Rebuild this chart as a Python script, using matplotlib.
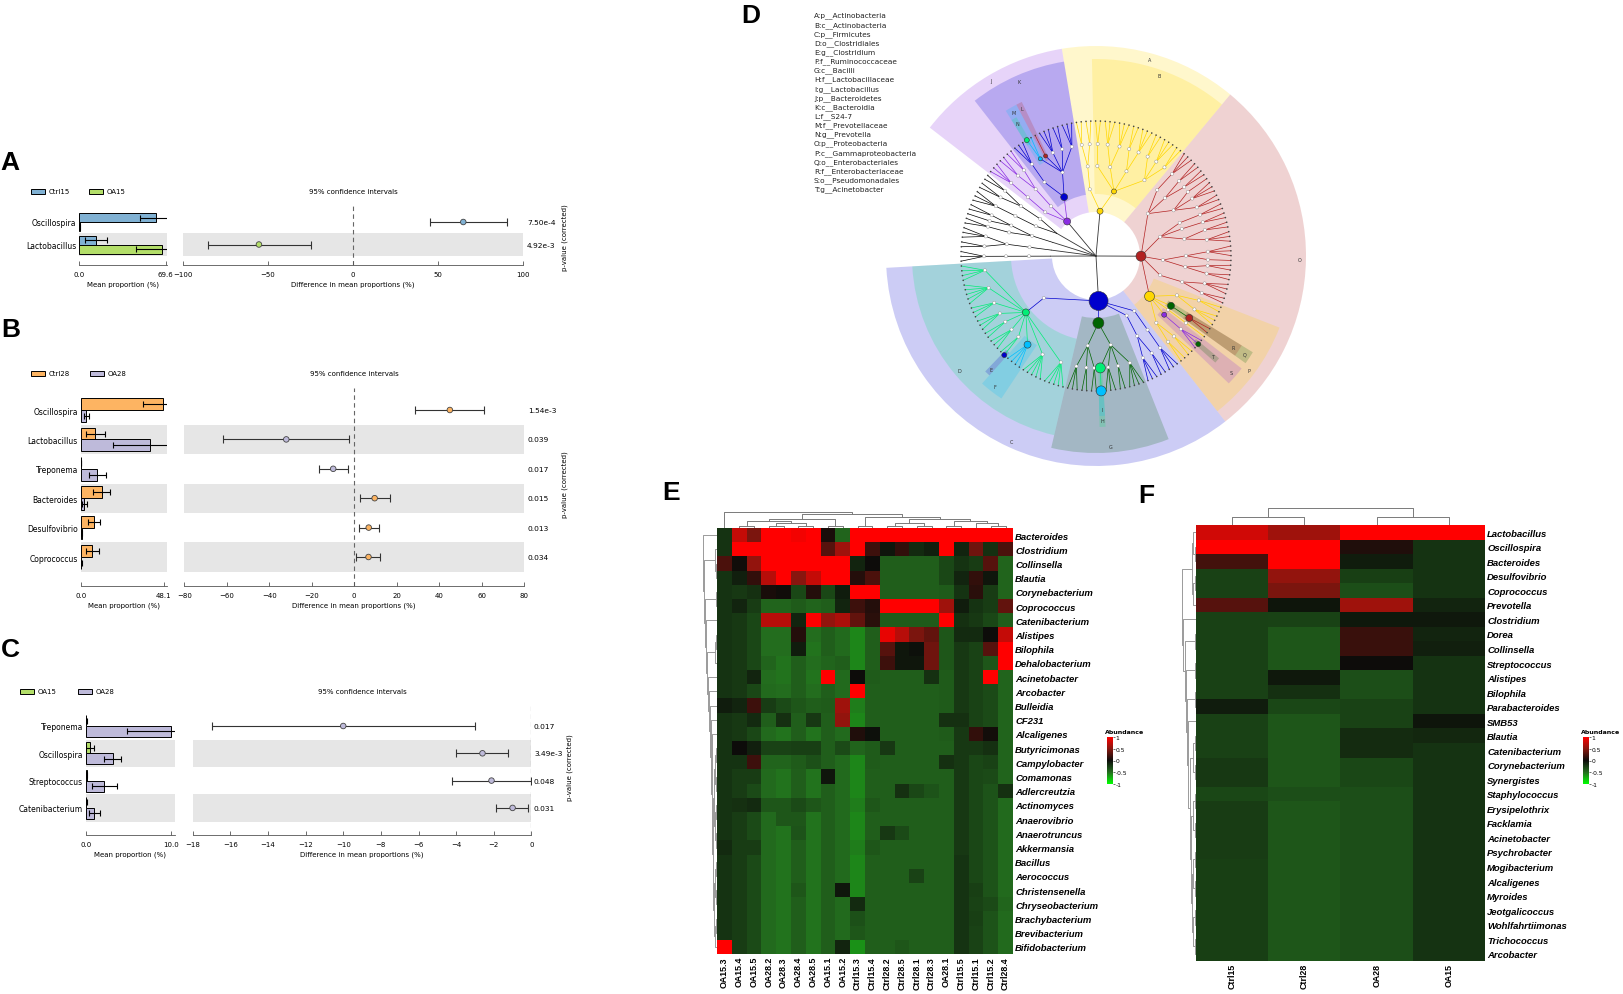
import numpy as np
import matplotlib
matplotlib.use('Agg')
import matplotlib.pyplot as plt
from matplotlib.patches import Wedge, Circle, Rectangle
from matplotlib.colors import LinearSegmentedColormap

W, H = 1623, 995

# ---------------- STAMP panels (A, B, C) ----------------
set3_blue, set3_green, set3_orange, set3_purple = '#80b1d3', '#b3de69', '#fdb462', '#bebada'

a_genera = ['Oscillospira', 'Lactobacillus']
a_groups = ['Ctrl15', 'OA15']
a_mean1 = [62.0, 13.7]
a_sd1 = [13.0, 8.8]
a_mean2 = [0.3, 66.4]
a_sd2 = [0.2, 21.0]
a_diff = [64.7, -55.3]
a_lo = [45.0, -85.3]
a_hi = [90.4, -25.0]
a_p = ['7.50e-4', '4.92e-3']

b_genera = ['Oscillospira', 'Lactobacillus', 'Treponema', 'Bacteroides', 'Desulfovibrio', 'Coprococcus']
b_groups = ['Ctrl28', 'OA28']
b_mean1 = [47.7, 8.4, 0.1, 12.2, 7.8, 6.8]
b_sd1 = [11.8, 5.6, 0.1, 5.0, 3.5, 3.9]
b_mean2 = [3.2, 40.1, 9.7, 2.1, 0.5, 0.3]
b_sd2 = [1.5, 21.5, 5.0, 1.5, 0.4, 0.2]
b_diff = [45.0, -32.0, -9.9, 9.6, 6.8, 6.7]
b_lo = [28.6, -61.6, -16.8, 2.9, 2.2, 0.9]
b_hi = [61.3, -2.4, -2.9, 16.8, 11.5, 12.3]
b_p = ['1.54e-3', '0.039', '0.017', '0.015', '0.013', '0.034']

c_genera = ['Treponema', 'Oscillospira', 'Streptococcus', 'Catenibacterium']
c_groups = ['OA15', 'OA28']
c_mean1 = [0.05, 0.5, 0.1, 0.05]
c_sd1 = [0.05, 0.5, 0.1, 0.05]
c_mean2 = [10.0, 3.2, 2.2, 1.0]
c_sd2 = [5.1, 1.0, 1.5, 0.65]
c_diff = [-10.0, -2.6, -2.12, -1.0]
c_lo = [-17.0, -4.0, -4.23, -1.87]
c_hi = [-3.0, -1.24, -0.04, -0.17]
c_p = ['0.017', '3.49e-3', '0.048', '0.031']

# ---------------- heatmap E ----------------
e_cols = ['OA15.3', 'OA15.4', 'OA15.5', 'OA28.2', 'OA28.3', 'OA28.4', 'OA28.5', 'OA15.1', 'OA15.2',
          'Ctrl15.3', 'Ctrl15.4', 'Ctrl28.2', 'Ctrl28.5', 'Ctrl28.1', 'Ctrl28.3', 'OA28.1',
          'Ctrl15.5', 'Ctrl15.1', 'Ctrl15.2', 'Ctrl28.4']
e_rows = ['Bacteroides', 'Clostridium', 'Collinsella', 'Blautia', 'Corynebacterium', 'Coprococcus',
          'Catenibacterium', 'Alistipes', 'Bilophila', 'Dehalobacterium', 'Acinetobacter', 'Arcobacter',
          'Bulleidia', 'CF231', 'Alcaligenes', 'Butyricimonas', 'Campylobacter', 'Comamonas',
          'Adlercreutzia', 'Actinomyces', 'Anaerovibrio', 'Anaerotruncus', 'Akkermansia', 'Bacillus',
          'Aerococcus', 'Christensenella', 'Chryseobacterium', 'Brachybacterium', 'Brevibacterium',
          'Bifidobacterium']
e_values = [
    [-0.2, 0.75, 0.45, 1, 1, 0.95, 1, 0.05, -0.45, 1, 1, 1, 1, 1, 1, 1, 1, 1, 1, 1],
    [-0.2, 1, 1, 1, 1, 1, 1, 0.3, 0.6, 1, 0.2, -0.05, 0.15, -0.15, -0.1, 1, -0.12, 0.4, -0.18, 0.25],
    [0.25, 0.02, 0.55, 1, 1, 1, 1, 1, 1, -0.12, 0.0, -0.42, -0.42, -0.42, -0.42, -0.3, -0.2, -0.25, 0.3, -0.45],
    [-0.2, -0.1, 0.15, 0.7, 1, 0.5, 0.75, 1, 1, 0.1, 0.25, -0.42, -0.42, -0.42, -0.42, -0.3, -0.12, 0.15, -0.05, -0.45],
    [-0.2, -0.22, -0.18, 0.05, 0.02, -0.3, 0.1, -0.3, -0.08, 1, 1, -0.42, -0.42, -0.42, -0.42, -0.4, -0.2, 0.12, -0.25, -0.45],
    [-0.2, -0.12, -0.25, -0.45, -0.45, -0.4, -0.45, -0.42, -0.12, 0.2, 0.1, 1, 1, 1, 1, 0.6, -0.08, -0.2, -0.25, 0.35],
    [-0.2, -0.22, -0.3, 0.7, 0.7, -0.12, 1, 0.55, 0.65, 0.35, 0.12, -0.4, -0.4, -0.4, -0.4, 1, -0.18, -0.22, -0.3, -0.42],
    [-0.2, -0.22, -0.3, -0.5, -0.5, 0.1, -0.5, -0.42, -0.48, -0.58, -0.42, 0.9, 0.7, 0.45, 0.35, -0.38, -0.15, -0.15, 0.0, 0.75],
    [-0.2, -0.22, -0.3, -0.5, -0.5, -0.08, -0.52, -0.42, -0.48, -0.58, -0.42, 0.3, -0.05, -0.02, 0.4, -0.38, -0.22, -0.28, 0.3, 1],
    [-0.2, -0.22, -0.3, -0.45, -0.52, -0.42, -0.5, -0.45, -0.42, -0.58, -0.42, 0.2, -0.05, -0.05, 0.4, -0.38, -0.22, -0.28, -0.38, 1],
    [-0.2, -0.22, -0.12, -0.5, -0.52, -0.42, -0.52, 1, -0.48, 0.0, -0.4, -0.42, -0.42, -0.42, -0.18, -0.4, -0.22, -0.28, 1, -0.45],
    [-0.2, -0.22, -0.3, -0.48, -0.5, -0.42, -0.5, -0.42, -0.48, 1, -0.42, -0.42, -0.42, -0.42, -0.42, -0.4, -0.22, -0.28, -0.32, -0.45],
    [-0.08, -0.12, 0.2, -0.25, -0.32, -0.38, -0.42, -0.4, 0.6, -0.55, -0.42, -0.42, -0.42, -0.42, -0.42, -0.4, -0.22, -0.28, -0.32, -0.45],
    [-0.2, -0.22, -0.15, -0.42, -0.18, -0.42, -0.22, -0.42, 0.55, -0.58, -0.42, -0.42, -0.42, -0.42, -0.42, -0.18, -0.18, -0.28, -0.32, -0.45],
    [-0.2, -0.22, -0.3, -0.48, -0.52, -0.42, -0.52, -0.42, -0.48, 0.08, -0.02, -0.42, -0.42, -0.42, -0.42, -0.4, -0.22, 0.15, 0.03, -0.45],
    [-0.2, 0.0, -0.1, -0.28, -0.28, -0.26, -0.26, -0.42, -0.32, -0.45, -0.4, -0.22, -0.42, -0.42, -0.42, -0.42, -0.22, -0.22, -0.18, -0.45],
    [-0.2, -0.2, 0.2, -0.45, -0.45, -0.4, -0.35, -0.42, -0.48, -0.58, -0.4, -0.42, -0.42, -0.42, -0.42, -0.18, -0.22, -0.3, -0.28, -0.45],
    [-0.2, -0.25, -0.25, -0.48, -0.52, -0.42, -0.52, -0.05, -0.48, -0.58, -0.42, -0.42, -0.42, -0.42, -0.42, -0.42, -0.22, -0.3, -0.32, -0.45],
    [-0.2, -0.25, -0.32, -0.48, -0.52, -0.42, -0.52, -0.42, -0.48, -0.58, -0.42, -0.42, -0.18, -0.3, -0.36, -0.42, -0.22, -0.3, -0.36, -0.18],
    [-0.2, -0.18, -0.15, -0.38, -0.38, -0.32, -0.38, -0.42, -0.48, -0.55, -0.38, -0.42, -0.42, -0.42, -0.42, -0.42, -0.22, -0.3, -0.36, -0.48],
    [-0.2, -0.25, -0.32, -0.48, -0.38, -0.38, -0.52, -0.42, -0.48, -0.58, -0.42, -0.42, -0.42, -0.42, -0.42, -0.42, -0.22, -0.3, -0.36, -0.48],
    [-0.2, -0.25, -0.32, -0.48, -0.52, -0.36, -0.52, -0.42, -0.48, -0.58, -0.42, -0.22, -0.32, -0.42, -0.42, -0.42, -0.22, -0.3, -0.36, -0.48],
    [-0.15, -0.25, -0.25, -0.48, -0.52, -0.42, -0.52, -0.42, -0.48, -0.55, -0.38, -0.42, -0.42, -0.42, -0.42, -0.42, -0.22, -0.3, -0.36, -0.48],
    [-0.2, -0.25, -0.32, -0.48, -0.52, -0.42, -0.52, -0.42, -0.48, -0.58, -0.42, -0.42, -0.42, -0.42, -0.42, -0.42, -0.2, -0.3, -0.36, -0.48],
    [-0.2, -0.25, -0.32, -0.48, -0.52, -0.42, -0.52, -0.42, -0.48, -0.58, -0.42, -0.42, -0.42, -0.28, -0.42, -0.42, -0.2, -0.3, -0.36, -0.48],
    [-0.2, -0.25, -0.32, -0.48, -0.52, -0.38, -0.52, -0.42, -0.05, -0.58, -0.42, -0.42, -0.42, -0.42, -0.42, -0.42, -0.2, -0.26, -0.36, -0.48],
    [-0.2, -0.25, -0.32, -0.48, -0.52, -0.42, -0.52, -0.42, -0.48, -0.15, -0.42, -0.42, -0.42, -0.42, -0.42, -0.42, -0.2, -0.28, -0.32, -0.46],
    [-0.2, -0.25, -0.32, -0.48, -0.52, -0.42, -0.52, -0.42, -0.48, -0.35, -0.42, -0.42, -0.42, -0.42, -0.42, -0.42, -0.2, -0.26, -0.36, -0.48],
    [-0.2, -0.25, -0.32, -0.48, -0.52, -0.42, -0.52, -0.42, -0.48, -0.38, -0.42, -0.42, -0.42, -0.42, -0.42, -0.42, -0.2, -0.28, -0.36, -0.48],
    [1, -0.25, -0.32, -0.48, -0.52, -0.42, -0.52, -0.42, -0.12, -0.62, -0.42, -0.42, -0.38, -0.42, -0.42, -0.42, -0.2, -0.28, -0.36, -0.48],
]
e_row_lower = ((((15, 16), (17, 18)), ((19, 20), (21, 22))), (((23, 24), (25, 26)), ((27, 28), 29)))
e_row_mid = (10, (11, (12, (13, (14, e_row_lower)))))
e_row_tree = (0, ((1, (2, 3)), ((4, 5), (6, (((7, 8), 9), e_row_mid)))))
e_col_tree = (0, ((((1, 2), ((3, 4), (5, 6))), (7, 8)),
                  ((9, 10), (((11, 12), (13, 14)), ((15, 16), (17, (18, 19)))))))

# ---------------- heatmap F ----------------
f_cols = ['Ctrl15', 'Ctrl28', 'OA28', 'OA15']
f_rows = ['Lactobacillus', 'Oscillospira', 'Bacteroides', 'Desulfovibrio', 'Coprococcus', 'Prevotella',
          'Clostridium', 'Dorea', 'Collinsella', 'Streptococcus', 'Alistipes', 'Bilophila',
          'Parabacteroides', 'SMB53', 'Blautia', 'Catenibacterium', 'Corynebacterium', 'Synergistes',
          'Staphylococcus', 'Erysipelothrix', 'Facklamia', 'Acinetobacter', 'Psychrobacter',
          'Mogibacterium', 'Alcaligenes', 'Myroides', 'Jeotgalicoccus', 'Wohlfahrtiimonas',
          'Trichococcus', 'Arcobacter']
f_values = [
    [0.8, 0.6, 1, 1], [1, 1, 0.08, -0.2], [0.22, 1, -0.08, -0.2], [-0.27, 0.55, -0.26, -0.2],
    [-0.27, 0.45, -0.34, -0.2], [0.3, -0.04, 0.6, -0.12], [-0.27, -0.28, -0.06, -0.06],
    [-0.27, -0.38, 0.18, -0.12], [-0.27, -0.38, 0.18, -0.1], [-0.27, -0.38, 0.0, -0.2],
    [-0.27, -0.06, -0.34, -0.2], [-0.27, -0.18, -0.34, -0.2], [-0.08, -0.3, -0.28, -0.2],
    [-0.27, -0.38, -0.28, -0.04], [-0.27, -0.38, -0.16, -0.14], [-0.27, -0.38, -0.16, -0.2],
    [-0.22, -0.38, -0.3, -0.2], [-0.22, -0.38, -0.3, -0.2], [-0.3, -0.34, -0.34, -0.2],
    [-0.25, -0.38, -0.34, -0.2], [-0.25, -0.38, -0.34, -0.2], [-0.25, -0.38, -0.34, -0.2],
    [-0.25, -0.38, -0.34, -0.2], [-0.26, -0.38, -0.34, -0.2], [-0.26, -0.38, -0.34, -0.2],
    [-0.26, -0.38, -0.34, -0.2], [-0.26, -0.38, -0.34, -0.2], [-0.26, -0.38, -0.34, -0.2],
    [-0.26, -0.38, -0.34, -0.2], [-0.26, -0.38, -0.34, -0.2],
]
f_col_tree = ((0, 1), (2, 3))
f_row_low = (((14, 15), (16, 17)), (((18, 19), (20, 21)), (((22, 23), (24, 25)), ((26, 27), (28, 29)))))
f_row_tree = (((0, (1, 2)), ((3, 4), 5)), (6, ((7, 8), ((9, 10), ((11, 12), (13, f_row_low))))))

# ---------------- cladogram D ----------------
phylum_trees = [
    # Proteobacteria: Gamma, Epsilon, Delta, Beta, Alpha
    [[[2, 2], [3], [1], [2], [3, 2]], [[2, 3]], [[2, 2], [1, 3]], [[3, 2], [2], [2]], [[2, 3, 1], [2, 2], [3]]],
    # Actinobacteria
    [[[2, 3, 2], [3, 2], [3, 3], [2]], [[2, 2]]],
    # Bacteroidetes
    [[[3, 2, 3, 1, 2], [3]], [[2, 2]], [[3]]],
    # other phyla
    [[[2, 2]], [[3]]],
    [[[2, 1], [2]]],
    [[[3, 2]]],
    [[[3]]],
    # Firmicutes: Clostridia, Bacilli, Erysipelotrichi, other
    [[[4, 5, 3, 3, 2, 3, 2, 4, 5, 5]], [[3, 2, 2], [1, 3, 2, 4]], [[3, 2]], [[3]]],
]
clade_phylum = [0, 0, 0, 0, 0, 0, 1, 1, 2, 2, 2, 2, 2, 7, 7, 7, 7, 7, 7, 7]
clade_path = [(), (0,), (0, 3), (0, 3, 0), (0, 1), (0, 1, 0, 1), (), (0,), (), (0,), (0, 0, 3), (0, 0, 4),
              (0, 0, 4, 1), (), (0, 0), (0, 0, 6, 1), (0, 0, 7), (1,), (1, 1, 0), (1, 1, 0, 0)]
clade_letter = ['O', 'P', 'Q', 'R', 'S', 'T', 'A', 'B', 'J', 'K', 'L', 'M', 'N', 'C', 'D', 'E', 'F', 'G', 'H', 'I']
clade_color = ['#b22222', '#ffd700', '#006400', '#b22222', '#8a2be2', '#006400', '#ffd700', '#ffd700',
               '#8a2be2', '#0000cd', '#b22222', '#00bfff', '#00ee76', '#0000cd', '#00ee76', '#0000cd',
               '#00bfff', '#006400', '#00ee76', '#00bfff']
clade_size = [10, 10, 7, 7, 5, 5, 6, 5, 7, 7, 4, 4, 5, 19, 7, 5, 7, 11, 10, 10]
d_legend = ['A:p__Actinobacteria', 'B:c__Actinobacteria', 'C:p__Firmicutes', 'D:o__Clostridiales',
            'E:g__Clostridium', 'F:f__Ruminococcaceae', 'G:c__Bacilli', 'H:f__Lactobacillaceae',
            'I:g__Lactobacillus', 'J:p__Bacteroidetes', 'K:c__Bacteroidia', 'L:f__S24-7',
            'M:f__Prevotellaceae', 'N:g__Prevotella', 'O:p__Proteobacteria', 'P:c__Gammaproteobacteria',
            'Q:o__Enterobacteriales', 'R:f__Enterobacteriaceae', 'S:o__Pseudomonadales', 'T:g__Acinetobacter']

fig = plt.figure(figsize=(W / 100, H / 100), dpi=100)


def box(x0, y0, x1, y1):
    return [x0 / W, 1 - y1 / H, (x1 - x0) / W, (y1 - y0) / H]


ov = fig.add_axes([0, 0, 1, 1])
ov.set_xlim(0, W)
ov.set_ylim(H, 0)
ov.axis('off')


def stamp(genera, groups, colors, m1, s1, m2, s2, diff, lo, hi, pvals, left_px, right_px, row0, rh,
          spine, left_max, left_lim, right_lim, right_ticks, leg_y, leg_x, ci_x, pval_x, plabel):
    n = len(genera)
    top = row0 - rh / 2 - 7
    ytop = -0.5 - 7 / rh
    ybot = (spine - row0) / rh
    axl = fig.add_axes(box(left_px[0], top, left_px[1], spine))
    axr = fig.add_axes(box(right_px[0], top, right_px[1], spine))
    y = np.arange(n)
    for ax in (axl, axr):
        ax.set_ylim(ybot, ytop)
        for s in ('left', 'right', 'top'):
            ax.spines[s].set_visible(False)
        ax.spines['bottom'].set_linewidth(0.6)
        ax.spines['bottom'].set_color('#555555')
        ax.tick_params(axis='x', direction='in', length=3, width=0.6, labelsize=5, pad=4.5, color='#555555')
        for i in range(1, n, 2):
            ax.axhspan(i - 0.5, i + 0.5, color='#e6e6e6', lw=0, zorder=0)
    axl.barh(y - 0.2, m1, height=0.4, color=colors[0], edgecolor='black', lw=0.7, zorder=2)
    axl.barh(y + 0.2, m2, height=0.4, color=colors[1], edgecolor='black', lw=0.7, zorder=2)
    axl.errorbar(m1, y - 0.2, xerr=s1, fmt='none', ecolor='black', elinewidth=0.8, capsize=2.5, capthick=0.8, zorder=3)
    axl.errorbar(m2, y + 0.2, xerr=s2, fmt='none', ecolor='black', elinewidth=0.8, capsize=2.5, capthick=0.8, zorder=3)
    axl.set_xlim(0, left_lim)
    axl.set_xticks([0, left_max])
    axl.set_xticklabels(['0.0', f'{left_max:.1f}'])
    axl.set_yticks(y)
    axl.set_yticklabels(genera, fontsize=5.5)
    axl.tick_params(axis='y', length=0, pad=2)
    axl.set_xlabel('Mean proportion (%)', fontsize=5, labelpad=2)

    d = np.array(diff)
    axr.set_xlim(*right_lim)
    axr.set_xticks(right_ticks)
    axr.set_yticks([])
    axr.axvline(0, ls=(0, (4, 3)), color='#666666', lw=0.8, zorder=1)
    axr.errorbar(d, y, xerr=[d - np.array(lo), np.array(hi) - d], fmt='none', ecolor='#333333',
                 elinewidth=0.8, capsize=3, capthick=0.8, zorder=3)
    pc = [colors[0] if v > 0 else colors[1] for v in diff]
    axr.scatter(d, y, s=16, c=pc, edgecolors='#444444', linewidths=0.6, zorder=4)
    axr.set_xlabel('Difference in mean proportions (%)', fontsize=5, labelpad=2)

    for g, c, x in zip(groups, colors, leg_x):
        ov.add_patch(Rectangle((x, leg_y - 2.5), 14, 5, facecolor=c, edgecolor='black', lw=0.7))
        ov.text(x + 18, leg_y, g, fontsize=5, va='center', ha='left')
    ov.text(ci_x, leg_y, '95% confidence intervals', fontsize=5, va='center', ha='center')
    for i, p in enumerate(pvals):
        ov.text(pval_x, row0 + i * rh, p, fontsize=5.4, va='center', ha='left')
    ov.text(plabel[0], plabel[1], 'p-value (corrected)', fontsize=5, rotation=90, va='center', ha='center')


stamp(a_genera, a_groups, [set3_blue, set3_green], a_mean1, a_sd1, a_mean2, a_sd2, a_diff, a_lo, a_hi, a_p,
      (79.2, 166.5), (182.8, 523.4), 223, 22.5, 266, 69.6, 70.2, (-100, 100), [-100, -50, 0, 50, 100],
      192, (31, 89), 353, 527, (565, 238))
stamp(b_genera, b_groups, [set3_orange, set3_purple], b_mean1, b_sd1, b_mean2, b_sd2, b_diff, b_lo, b_hi, b_p,
      (80.7, 166.5), (184.3, 524.2), 411, 29.4, 587, 48.1, 49.8, (-80, 80), list(range(-80, 81, 20)),
      374, (31, 90), 354, 528, (565, 485))
stamp(c_genera, c_groups, [set3_green, set3_purple], c_mean1, c_sd1, c_mean2, c_sd2, c_diff, c_lo, c_hi, c_p,
      (85.8, 174.5), (192.7, 531.4), 727, 27.3, 836, 10.0, 10.44, (-18, 0), list(range(-18, 1, 2)),
      692, (20, 78), 362, 534, (570, 768))

# ---------------- panel D: cladogram ----------------
CX, CY = 1096, 257
axd = fig.add_axes(box(690, 0, 1623, 470))
axd.set_xlim(690 - CX, W - CX)
axd.set_ylim(CY - 470, CY)
axd.axis('off')

R_LEVEL = [0, 45, 67, 90, 112, 135]
R_OUT = [0, 210, 197, 184, 171, 160]
START = -52.0


def n_leaves(t):
    return t if isinstance(t, int) else sum(n_leaves(c) for c in t)


step = 360.0 / sum(n_leaves(t) for t in phylum_trees)


def build(t, depth, state):
    if isinstance(t, int):
        kids = []
        for _ in range(t):
            a = START + (state[0] + 0.5) * step
            state[0] += 1
            kids.append({'d': depth + 1, 'a': a, 'lo': a, 'hi': a, 'kids': []})
    else:
        kids = [build(c, depth + 1, state) for c in t]
    return {'d': depth, 'a': float(np.mean([k['a'] for k in kids])),
            'lo': kids[0]['lo'], 'hi': kids[-1]['hi'], 'kids': kids}


state = [0]
phyla = [build(t, 1, state) for t in phylum_trees]


def pol(r, a):
    t = np.deg2rad(a)
    return r * np.cos(t), r * np.sin(t)


def get_node(pi, path):
    nd = phyla[pi]
    for k in path:
        nd = nd['kids'][k]
    return nd


clade_map = {(p, pa): i for i, (p, pa) in enumerate(zip(clade_phylum, clade_path))}

# shaded sectors
order = sorted(range(len(clade_path)), key=lambda i: len(clade_path[i]))
for i in order:
    nd = get_node(clade_phylum[i], clade_path[i])
    dpt = nd['d']
    r_in = 44 if dpt == 1 else R_LEVEL[dpt] - 5
    r_out = R_OUT[dpt]
    axd.add_patch(Wedge((0, 0), r_out, nd['lo'] - step / 2, nd['hi'] + step / 2, width=r_out - r_in,
                        facecolor=clade_color[i], alpha=0.2, lw=0, zorder=1))
    mid = (nd['lo'] + nd['hi']) / 2
    lx, ly = pol(r_out - 6, mid)
    axd.text(lx, ly, clade_letter[i], fontsize=3.5, ha='center', va='center', color='#333333', zorder=2)


def draw_tree(nd, pi, path, color):
    idx = clade_map.get((pi, path))
    c = clade_color[idx] if idx is not None else color
    x0, y0 = pol(R_LEVEL[nd['d']], nd['a'])
    for k, kid in enumerate(nd['kids']):
        x1, y1 = pol(R_LEVEL[kid['d']], kid['a'])
        axd.plot([x0, x1], [y0, y1], color=c, lw=0.5, zorder=2, solid_capstyle='butt')
        draw_tree(kid, pi, path + (k,), c)
        if not kid['kids']:
            axd.add_patch(Circle((x1, y1), 0.8, facecolor='#444444', lw=0, zorder=3))
        elif (pi, path + (k,)) not in clade_map:
            axd.add_patch(Circle((x1, y1), 1.6, facecolor='white', edgecolor='#888888', lw=0.3, zorder=3))


for pi, ph in enumerate(phyla):
    px_, py_ = pol(R_LEVEL[1], ph['a'])
    axd.plot([0, px_], [0, py_], color='#333333', lw=0.6, zorder=2)
    draw_tree(ph, pi, (), 'black')

for i in range(len(clade_path)):
    nd = get_node(clade_phylum[i], clade_path[i])
    x, y = pol(R_LEVEL[nd['d']], nd['a'])
    axd.add_patch(Circle((x, y), clade_size[i] / 2, facecolor=clade_color[i], edgecolor='#333333',
                         lw=0.4, zorder=4))

for i, s in enumerate(d_legend):
    axd.text(814 - CX, CY - (16 + i * 9.15), s, fontsize=5.3, ha='left', va='center', color='#222222')

# ---------------- heatmaps E and F ----------------
cmap = LinearSegmentedColormap.from_list('gkr', [(0.0, (0.0, 1.0, 0.0)), (0.25, (0.14, 0.43, 0.12)),
                                                 (0.5, (0.05, 0.05, 0.04)), (0.75, (0.53, 0.09, 0.06)),
                                                 (1.0, (1.0, 0.0, 0.0))])
hfont = 'Liberation Sans'


def heatmap(values, rows, cols, px_box, cbar_px, title_xy):
    ax = fig.add_axes(box(*px_box))
    im = ax.imshow(np.array(values), cmap=cmap, vmin=-1, vmax=1, aspect='auto', interpolation='nearest')
    for s in ax.spines.values():
        s.set_visible(False)
    ax.yaxis.tick_right()
    ax.set_yticks(range(len(rows)), rows, fontsize=6.8, fontweight='bold', fontstyle='italic', family=hfont)
    ax.set_xticks(range(len(cols)), cols, fontsize=6.4, fontweight='bold', rotation=90, family=hfont)
    ax.tick_params(length=0, pad=1.5)
    cax = fig.add_axes(box(*cbar_px))
    cb = fig.colorbar(im, cax=cax, ticks=[-1, -0.5, 0, 0.5, 1])
    cb.ax.set_yticklabels(['-1', '-0.5', '0', '0.5', '1'])
    cb.ax.tick_params(labelsize=4.3, length=1.5, width=0.4, pad=0.5)
    cb.outline.set_visible(False)
    ov.text(title_xy[0], title_xy[1], 'Abundance', fontsize=4.5, fontweight='semibold', ha='left', va='center')


def tree_depth(t):
    return 0 if isinstance(t, int) else 1 + max(tree_depth(c) for c in t)


def dendro(t, pos, base, length, columns):
    unit = length / tree_depth(t)

    def rec(nd):
        if isinstance(nd, int):
            return pos(nd), 0
        (p1, h1), (p2, h2) = rec(nd[0]), rec(nd[1])
        h = max(h1, h2) + 1
        hs = [base - h1 * unit, base - h * unit, base - h * unit, base - h2 * unit]
        ps = [p1, p1, p2, p2]
        if columns:
            ov.plot(ps, hs, color='#7a7a7a', lw=0.7)
        else:
            ov.plot(hs, ps, color='#9a9a9a', lw=0.7)
        return (p1 + p2) / 2, h
    rec(t)


e_box = (717, 529, 1013, 955)
heatmap(e_values, e_rows, e_cols, e_box, (1107, 738, 1113, 785), (1105, 732))
ecw = (e_box[2] - e_box[0]) / len(e_cols)
erh = (e_box[3] - e_box[1]) / len(e_rows)
dendro(e_col_tree, lambda i: e_box[0] + (i + 0.5) * ecw, e_box[1], 16, True)
dendro(e_row_tree, lambda i: e_box[1] + (i + 0.5) * erh, e_box[0], 14, False)

f_box = (1196, 526, 1485, 962)
heatmap(f_values, f_rows, f_cols, f_box, (1583, 738, 1589, 785), (1581, 732))
fcw = (f_box[2] - f_box[0]) / len(f_cols)
frh = (f_box[3] - f_box[1]) / len(f_rows)
dendro(f_col_tree, lambda i: f_box[0] + (i + 0.5) * fcw, f_box[1], 17, True)
dendro(f_row_tree, lambda i: f_box[1] + (i + 0.5) * frh, f_box[0], 14, False)

# panel letters
for letter, (x, y) in zip('ABCDEF', [(10, 163), (11, 330), (10, 650), (751, 16), (671, 493), (1146, 496)]):
    ov.text(x, y, letter, fontsize=19, fontweight='bold', family=hfont, ha='center', va='center')

fig.savefig('out.png', dpi=100)
